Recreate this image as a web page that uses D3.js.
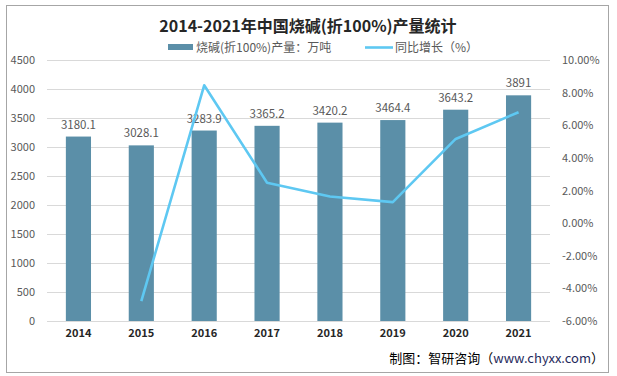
<!DOCTYPE html>
<html><head><meta charset="utf-8">
<script src="https://cdn.jsdelivr.net/npm/d3@7"></script>
<style>body{margin:0;background:#fff}svg{display:block}</style>
</head><body>
<script>
const years = ["2014","2015","2016","2017","2018","2019","2020","2021"];
const output = [3180.1, 3028.1, 3283.9, 3365.2, 3420.2, 3464.4, 3643.2, 3891];
const growth = [null, -4.78, 8.45, 2.48, 1.63, 1.29, 5.16, 6.80];
const leftTicks = [0,500,1000,1500,2000,2500,3000,3500,4000,4500];
const rightTicks = [-6,-4,-2,0,2,4,6,8,10];

const W = 617, H = 376;
const svg = d3.select("body").append("svg").attr("width", W).attr("height", H);
const font = "'Microsoft YaHei','Noto Sans CJK SC','DejaVu Sans',sans-serif";

svg.append("rect").attr("x",6.5).attr("y",5.5).attr("width",602).attr("height",367)
  .attr("fill","#fff").attr("stroke","#a6a6a6").attr("stroke-width",1);

const x0 = 47, x1 = 550, yTop = 60, yBot = 321;
const x = d3.scaleBand().domain(years).range([x0, x1]).paddingInner(0.6).paddingOuter(0.3);
const yL = d3.scaleLinear().domain([0, 4500]).range([yBot, yTop]);
const yR = d3.scaleLinear().domain([-6, 10]).range([yBot, yTop]);

// gridlines
svg.append("g").selectAll("line").data(leftTicks).join("line")
  .attr("x1", x0).attr("x2", x1).attr("y1", d => yL(d)+0.5).attr("y2", d => yL(d)+0.5)
  .attr("stroke", "#d9d9d9").attr("stroke-width", 1);

// left axis labels
const axL = d3.axisLeft(yL).tickValues(leftTicks).tickSize(0).tickPadding(0).tickFormat(d3.format("d"));
const gL = svg.append("g").attr("transform", `translate(35,0)`).call(axL);
gL.select(".domain").remove();
gL.selectAll("text").attr("font-family", font).attr("font-size", 11).attr("fill", "#595959");

// right axis labels
const axR = d3.axisRight(yR).tickValues(rightTicks).tickSize(0).tickPadding(0)
  .tickFormat(d => d.toFixed(2) + "%");
const gR = svg.append("g").attr("transform", `translate(562,0)`).call(axR);
gR.select(".domain").remove();
gR.selectAll("text").attr("font-family", font).attr("font-size", 11).attr("fill", "#595959");

// x axis labels
const axB = d3.axisBottom(x).tickSize(0).tickPadding(0);
const gB = svg.append("g").attr("transform", `translate(0,${yBot+8})`).call(axB);
gB.select(".domain").remove();
gB.selectAll("text").attr("font-family", font).attr("font-size", 11).attr("font-weight", "bold").attr("fill", "#262626");

// bars
svg.append("g").selectAll("rect").data(output).join("rect")
  .attr("x", (d,i) => x(years[i])).attr("width", x.bandwidth())
  .attr("y", d => yL(d)).attr("height", d => yBot - yL(d))
  .attr("fill", "#5b8fa8");

// bar labels
svg.append("g").selectAll("text").data(output).join("text")
  .attr("x", (d,i) => x(years[i]) + x.bandwidth()/2).attr("y", d => yL(d) - 8)
  .attr("text-anchor", "middle").attr("font-family", font).attr("font-size", 11.5)
  .attr("fill", "#595959").text(d => d);

// line
const line = d3.line().defined(d => d != null)
  .x((d,i) => x(years[i]) + x.bandwidth()/2).y(d => yR(d));
svg.append("path").datum(growth).attr("d", line)
  .attr("fill", "none").attr("stroke", "#5ec8f2").attr("stroke-width", 2.6)
  .attr("stroke-linejoin", "round");

// title
svg.append("text").attr("x", 308).attr("y", 32).attr("text-anchor", "middle")
  .attr("font-family", font).attr("font-size", 16).attr("font-weight", "bold")
  .attr("fill", "#262626").text("2014-2021年中国烧碱(折100%)产量统计");

// legend
svg.append("rect").attr("x", 168).attr("y", 44).attr("width", 25).attr("height", 6).attr("fill", "#5b8fa8");
svg.append("text").attr("x", 196).attr("y", 52).attr("font-family", font).attr("font-size", 12)
  .attr("fill", "#595959").text("烧碱(折100%)产量：万吨");
svg.append("line").attr("x1", 365).attr("x2", 393).attr("y1", 47.5).attr("y2", 47.5)
  .attr("stroke", "#5ec8f2").attr("stroke-width", 2.6);
svg.append("text").attr("x", 395).attr("y", 52).attr("font-family", font).attr("font-size", 12)
  .attr("fill", "#595959").text("同比增长（%）");

// source
const src = svg.append("text").attr("x", 604).attr("y", 363).attr("text-anchor", "end")
  .attr("font-family", font).attr("font-size", 13).attr("fill", "#000");
src.append("tspan").text("制图：智研咨询（");
src.append("tspan").attr("fill", "#1f2a5c").text("www.chyxx.com");
src.append("tspan").text("）");
</script>
</body></html>
